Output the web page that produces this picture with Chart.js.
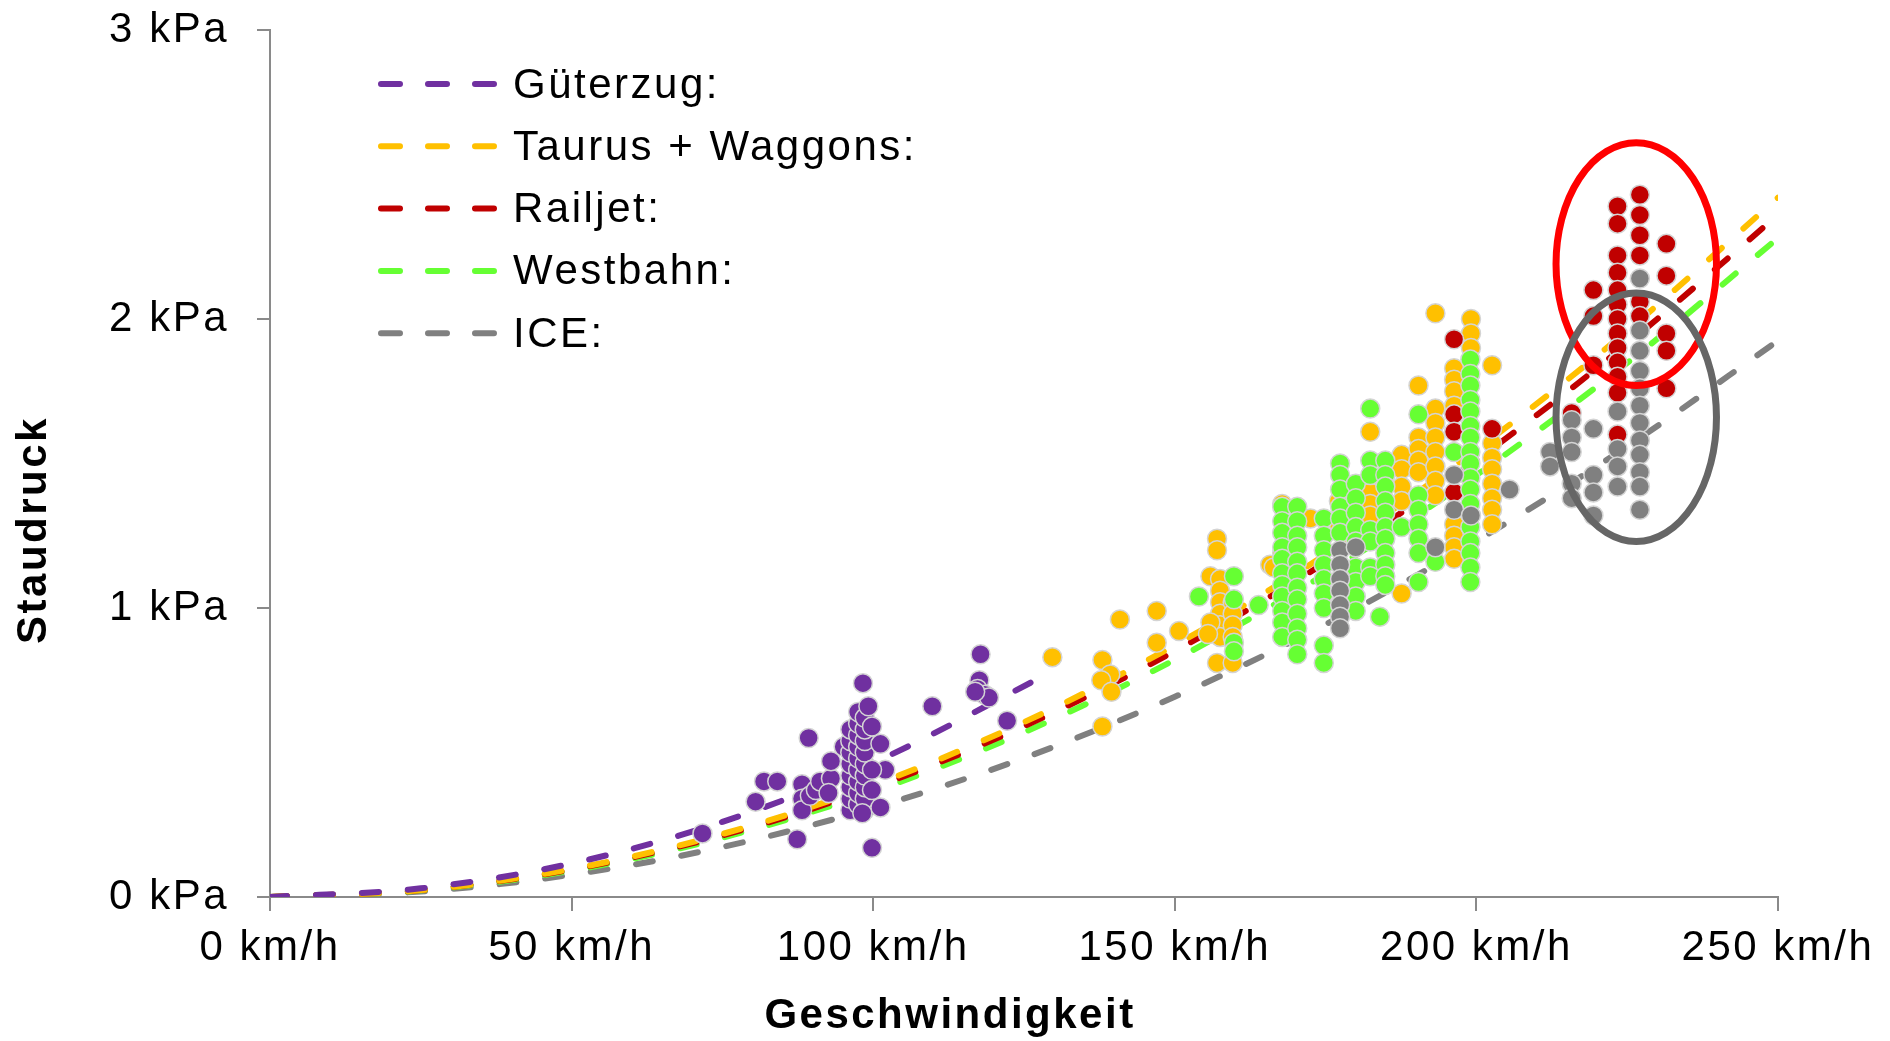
<!DOCTYPE html>
<html lang="de">
<head>
<meta charset="utf-8">
<title>Staudruck über Geschwindigkeit</title>
<script src="https://cdn.jsdelivr.net/npm/chart.js@4.4.1/dist/chart.umd.min.js"></script>
<style>
  html, body { margin: 0; padding: 0; background: #fff; }
  #wrap { width: 1890px; height: 1041px; position: relative; }
</style>
</head>
<body>
<div id="wrap"><canvas id="staudruckChart"></canvas></div>
<script>
// Achsen
const xTicks = [0, 50, 100, 150, 200, 250];
const yTicks = [0, 1, 2, 3];
const xUnit = ' km/h';
const yUnit = ' kPa';
const xTitle = 'Geschwindigkeit';
const yTitle = 'Staudruck';

// Zuege
const trainNames = ['Güterzug:', 'Taurus + Waggons:', 'Railjet:', 'Westbahn:', 'ICE:'];
const trainColors = ['#7030A0', '#FFC000', '#C00000', '#66FF33', '#808080'];

// Ausgleichskurven (gestrichelt)
const curveSpeeds = [0, 25, 50, 75, 100, 125, 150, 175, 200, 225, 250];
const gueterCurveSpeeds = [0, 25, 50, 75, 100, 128];
const gueterCurve = [0, 0.03, 0.116, 0.26, 0.464, 0.762];
const taurusCurve = [0, 0.024, 0.097, 0.218, 0.387, 0.605, 0.871, 1.185, 1.548, 1.959, 2.42];
const railjetCurve = [0, 0.024, 0.095, 0.213, 0.378, 0.591, 0.851, 1.158, 1.512, 1.914, 2.36];
const westbahnCurve = [0, 0.023, 0.091, 0.205, 0.365, 0.57, 0.821, 1.118, 1.46, 1.848, 2.28];
const iceCurve = [0, 0.019, 0.077, 0.173, 0.308, 0.481, 0.693, 0.943, 1.232, 1.559, 1.925];

// Messpunkte [km/h, kPa]
const gueterPoints = [
  [71.7,0.22],[87.4,0.20],[80.5,0.33],[81.9,0.40],[84.1,0.40],[89.3,0.55],
  [88.2,0.39],[88.2,0.34],[88.2,0.30],[89.5,0.35],[90.5,0.37],
  [91.2,0.40],[93,0.41],[93,0.47],[92.6,0.36],[95.1,0.52],
  [96.2,0.30],[96.2,0.34],[96.2,0.38],[96.2,0.42],[96.2,0.46],[96.2,0.50],[96.2,0.54],[96.2,0.58],
  [97.5,0.32],[97.5,0.36],[97.5,0.40],[97.5,0.44],[97.5,0.48],[97.5,0.52],[97.5,0.56],[97.5,0.60],[97.5,0.64],
  [98.6,0.30],[98.6,0.34],[98.6,0.38],[98.6,0.42],[98.6,0.46],[98.6,0.50],[98.6,0.54],[98.6,0.58],[98.6,0.62],
  [98.3,0.74],[99.2,0.66],[99.8,0.59],[101.2,0.53],[102,0.44],[99.8,0.44],[99.8,0.37],[101.2,0.31],
  [98.2,0.29],[99.8,0.17],[109.8,0.66],[117.8,0.84],[117.6,0.75],[117.3,0.72],[118.5,0.70],
  [119.2,0.69],[116.9,0.71],[122.2,0.61]
];
const taurusPoints = [
  [129.7,0.83],[138,0.59],[138,0.82],[139.3,0.77],[137.8,0.75],[139.5,0.71],[140.9,0.96],
  [147,0.99],[147,0.88],[150.7,0.92],
  [157,1.24],[157,1.20],[155.9,1.11],[157.5,1.10],[157.5,1.06],[157.5,1.02],[157.5,0.98],
  [157.5,0.94],[157.5,0.90],[157,0.81],[155.9,0.95],[155.5,0.91],
  [159.6,1.02],[159.6,0.98],[159.6,0.94],[159.6,0.90],[159.6,0.81],
  [165.8,1.15],[166.4,1.14],[167.8,1.36],[167.8,1.19],[172.5,1.31],[177.2,1.37],[177.2,1.29],
  [182.4,1.61],[182.4,1.45],[182.4,1.40],[182.4,1.36],[182.4,1.32],
  [187.6,1.53],[187.6,1.48],[187.6,1.42],[187.6,1.37],[187.6,1.05],
  [190.4,1.77],[190.4,1.59],[190.4,1.55],[190.4,1.51],[190.4,1.47],
  [193.2,2.02],[193.2,1.69],[193.2,1.64],[193.2,1.59],[193.2,1.54],[193.2,1.49],[193.2,1.44],[193.2,1.39],
  [196.3,1.83],[196.3,1.79],[196.3,1.75],[196.3,1.70],[196.3,1.29],[196.3,1.25],[196.3,1.21],[196.3,1.17],
  [199.1,2.00],[199.1,1.95],[199.1,1.90],
  [202.6,1.84],[202.6,1.57],[202.6,1.52],[202.6,1.48],[202.6,1.43],[202.6,1.38],[202.6,1.34],[202.6,1.29]
];
const railjetPoints = [
  [196.3,1.93],[196.3,1.67],[196.3,1.61],[196.3,1.40],[202.6,1.62],
  [215.8,1.675],[219.4,2.10],[219.4,2.01],[219.4,1.84],
  [223.4,2.39],[223.4,2.33],[223.4,2.22],[223.4,2.16],[223.4,2.10],[223.4,2.05],[223.4,2.00],
  [223.4,1.95],[223.4,1.90],[223.4,1.85],[223.4,1.80],[223.4,1.745],[223.4,1.60],
  [227.1,2.43],[227.1,2.36],[227.1,2.29],[227.1,2.22],[227.1,2.06],[227.1,2.01],
  [231.5,2.26],[231.5,2.15],[231.5,1.95],[231.5,1.89],[231.5,1.76]
];
const westbahnPoints = [
  [154,1.04],[159.8,1.11],[159.8,1.03],[159.8,0.88],[159.8,0.85],[163.9,1.01],
  [167.8,1.35],[167.8,1.30],[167.8,1.26],[167.8,1.21],[167.8,1.17],[167.8,1.12],[167.8,1.08],
  [167.8,1.04],[167.8,0.99],[167.8,0.95],[167.8,0.90],
  [170.3,1.35],[170.3,1.30],[170.3,1.25],[170.3,1.21],[170.3,1.16],[170.3,1.12],[170.3,1.07],
  [170.3,1.03],[170.3,0.98],[170.3,0.93],[170.3,0.89],[170.3,0.84],
  [174.7,1.31],[174.7,1.25],[174.7,1.20],[174.7,1.15],[174.7,1.10],[174.7,1.05],[174.7,1.00],
  [174.7,0.87],[174.7,0.81],
  [177.4,1.50],[177.4,1.46],[177.4,1.41],[177.4,1.35],[177.4,1.31],[177.4,1.26],
  [180,1.43],[180,1.38],[180,1.33],[180,1.28],[180,1.23],[180,1.14],[180,1.09],[180,1.04],[180,0.99],
  [182.4,1.69],[182.4,1.51],[182.4,1.46],[182.4,1.27],[182.4,1.23],[182.4,1.14],[182.4,1.11],
  [184.9,1.51],[184.9,1.46],[184.9,1.42],[184.9,1.37],[184.9,1.33],[184.9,1.28],[184.9,1.24],
  [184.9,1.19],[184.9,1.15],[184.9,1.11],[184.9,1.08],[184,0.97],
  [187.6,1.28],
  [190.4,1.67],[190.4,1.39],[190.4,1.34],[190.4,1.29],[190.4,1.24],[190.4,1.19],[190.4,1.09],
  [193.2,1.16],[196.3,1.54],
  [199,1.86],[199,1.81],[199,1.77],[199,1.72],[199,1.68],[199,1.63],[199,1.59],[199,1.54],[199,1.50],
  [199,1.45],[199,1.41],[199,1.36],[199,1.28],[199,1.23],[199,1.19],[199,1.14],[199,1.09]
];
const icePoints = [
  [177.4,1.20],[177.4,1.15],[177.4,1.10],[177.4,1.06],[177.4,1.01],[177.4,0.97],[177.4,0.93],[180,1.21],
  [193.2,1.21],[196.3,1.46],[196.3,1.34],[199.1,1.32],[205.5,1.41],
  [212.2,1.54],[212.2,1.49],[215.8,1.65],[215.8,1.59],[215.8,1.54],[215.8,1.43],[215.8,1.38],
  [219.4,1.62],[219.4,1.46],[219.4,1.40],[219.4,1.32],
  [223.4,1.68],[223.4,1.55],[223.4,1.49],[223.4,1.42],
  [227.1,2.14],[227.1,1.96],[227.1,1.89],[227.1,1.82],[227.1,1.76],[227.1,1.70],[227.1,1.64],
  [227.1,1.58],[227.1,1.53],[227.1,1.47],[227.1,1.42],[227.1,1.34]
];

// Markierungen (Ellipsen in Achseneinheiten)
const highlights = [
  { v: 226.5, p: 2.19, dv: 13.3, dp: 0.42, color: '#FF0000' },
  { v: 226.5, p: 1.66, dv: 13.3, dp: 0.43, color: '#666666' }
];

const FONT = 'Liberation Sans, Arial, sans-serif';

function toXY(pairs) {
  return pairs.map(d => ({ x: d[0], y: d[1] }));
}
function curve(speeds, values) {
  return speeds.map((s, i) => ({ x: s, y: values[i] }));
}

const curves = [
  curve(gueterCurveSpeeds, gueterCurve),
  curve(curveSpeeds, taurusCurve),
  curve(curveSpeeds, railjetCurve),
  curve(curveSpeeds, westbahnCurve),
  curve(curveSpeeds, iceCurve)
];
const pointSets = [gueterPoints, taurusPoints, railjetPoints, westbahnPoints, icePoints];
// gray on top, then green, red, orange, purple
const pointOrder = [4, 3, 2, 1, 0];

const datasets = [];
curves.forEach((c, i) => {
  datasets.push({
    label: trainNames[i],
    data: c,
    showLine: true,
    borderColor: trainColors[i],
    borderWidth: 6,
    borderDash: [17, 29],
    borderCapStyle: 'round',
    cubicInterpolationMode: 'monotone',
    pointRadius: 0,
    fill: false,
    order: 10 + i
  });
});
pointSets.forEach((pts, i) => {
  datasets.push({
    label: trainNames[i] + ' Messwerte',
    data: toXY(pts),
    showLine: false,
    pointRadius: 9.5,
    pointBorderWidth: 1.5,
    pointBackgroundColor: trainColors[i],
    pointBorderColor: '#D4D4D4',
    order: pointOrder[i]
  });
});

// Legende, Achsentitel, Ellipsen
const extrasPlugin = {
  id: 'extras',
  beforeDraw(chart) {
    chart.ctx.letterSpacing = '2.5px';
  },
  afterDatasetsDraw(chart) {
    const ctx = chart.ctx;
    const xs = chart.scales.x, ys = chart.scales.y;
    ctx.save();
    highlights.forEach(h => {
      const cx = xs.getPixelForValue(h.v);
      const cy = ys.getPixelForValue(h.p);
      const rx = xs.getPixelForValue(h.v + h.dv) - cx;
      const ry = cy - ys.getPixelForValue(h.p + h.dp);
      ctx.beginPath();
      ctx.ellipse(cx, cy, rx, ry, 0, 0, Math.PI * 2);
      ctx.lineWidth = 7;
      ctx.strokeStyle = h.color;
      ctx.stroke();
    });
    ctx.restore();
  },
  afterDraw(chart) {
    const ctx = chart.ctx;
    ctx.save();
    ctx.letterSpacing = '2.5px';
    // legend
    ctx.font = '42px ' + FONT;
    ctx.textBaseline = 'middle';
    ctx.textAlign = 'left';
    trainNames.forEach((name, i) => {
      const y = 84 + i * 62.3;
      ctx.beginPath();
      ctx.setLineDash([19, 28]);
      ctx.lineCap = 'round';
      ctx.lineWidth = 6;
      ctx.strokeStyle = trainColors[i];
      ctx.moveTo(381, y);
      ctx.lineTo(495, y);
      ctx.stroke();
      ctx.setLineDash([]);
      ctx.fillStyle = '#000';
      ctx.fillText(name, 513, y + 2);
    });
    // axis titles
    ctx.font = 'bold 42px ' + FONT;
    ctx.textAlign = 'center';
    ctx.fillText(xTitle, 950, 1016);
    ctx.translate(34, 530);
    ctx.rotate(-Math.PI / 2);
    ctx.fillText(yTitle, 0, 0);
    ctx.restore();
    ctx.letterSpacing = '0px';
  }
};

const axisGray = '#8A8A8A';
const tickFont = { family: FONT, size: 42 };

new Chart(document.getElementById('staudruckChart'), {
  type: 'scatter',
  data: { datasets },
  options: {
    responsive: true,
    maintainAspectRatio: false,
    animation: false,
    events: [],
    layout: { padding: { top: 30, right: 112, bottom: 0, left: 0 } },
    plugins: { legend: { display: false }, tooltip: { enabled: false } },
    scales: {
      x: {
        type: 'linear',
        min: 0,
        max: 250,
        afterBuildTicks: s => { s.ticks = xTicks.map(v => ({ value: v })); },
        afterFit: s => { s.height = 144; },
        ticks: { callback: v => v + xUnit, font: tickFont, color: '#000', padding: 12, maxRotation: 0, autoSkip: false },
        grid: { drawOnChartArea: false, drawTicks: true, tickLength: 14, color: axisGray, lineWidth: 2 },
        border: { color: axisGray, width: 2 }
      },
      y: {
        type: 'linear',
        min: 0,
        max: 3,
        afterBuildTicks: s => { s.ticks = yTicks.map(v => ({ value: v })); },
        afterFit: s => { s.width = 270; s.paddingTop = 0; s.paddingBottom = 0; },
        ticks: { callback: v => v + yUnit, font: tickFont, color: '#000', padding: 28, autoSkip: false },
        grid: { drawOnChartArea: false, drawTicks: true, tickLength: 13, color: axisGray, lineWidth: 2 },
        border: { color: axisGray, width: 2 }
      }
    }
  },
  plugins: [extrasPlugin]
});
</script>
</body>
</html>
